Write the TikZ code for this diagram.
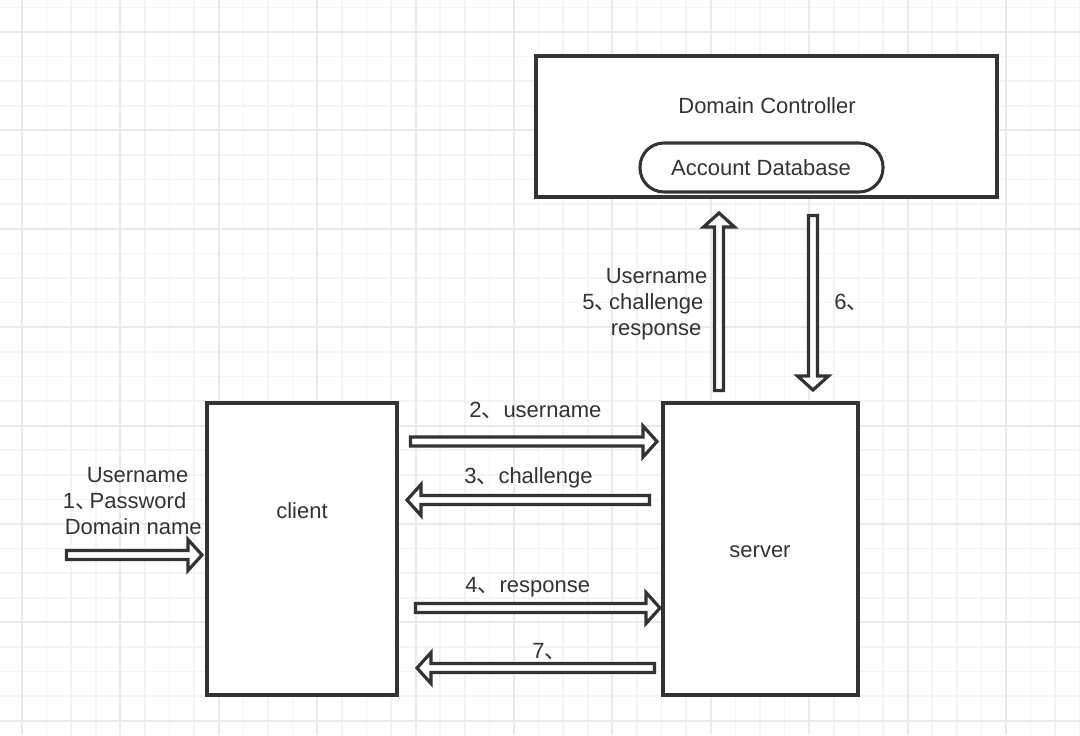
\documentclass[tikz,border=0pt]{standalone}
\usepackage{fontspec}
\setmainfont{Liberation Sans}
\newfontfamily\cjk{Noto Sans CJK SC}
\definecolor{ink}{HTML}{333333}
\definecolor{gridminor}{HTML}{F4F4F4}
\definecolor{gridmajor}{HTML}{EAEAEA}
\newcommand{\hblock}[4]{% tail x, tip x, y, signed head length
  \draw[blockarrow] (#1,{#3-4.5}) -- ({#2-(#4)},{#3-4.5}) -- ({#2-(#4)},{#3-15.5}) -- (#2,#3) -- ({#2-(#4)},{#3+15.5}) -- ({#2-(#4)},{#3+4.5}) -- (#1,{#3+4.5}) -- cycle;}
\newcommand{\vblock}[4]{% x, tail y, tip y, signed head length
  \draw[blockarrow] ({#1-4.5},#2) -- ({#1-4.5},{#3-(#4)}) -- ({#1-15.5},{#3-(#4)}) -- (#1,#3) -- ({#1+15.5},{#3-(#4)}) -- ({#1+4.5},{#3-(#4)}) -- ({#1+4.5},#2) -- cycle;}
\newcommand{\narrowcomma}{{\cjk 、}\kern-5.5pt}
\begin{document}
\begin{tikzpicture}[x=0.75pt,y=-0.75pt,
  box/.style={draw=ink, line width=2.3pt, fill=white, inner sep=0pt},
  txt/.style={inner sep=0pt, text=ink, font=\fontsize{16.5}{20}\selectfont},
  blockarrow/.style={draw=ink, line width=2.4pt, fill=white, line join=miter},
  minorline/.style={draw=gridminor, line width=1.1pt},
  majorline/.style={draw=gridmajor, line width=1.5pt}]
\useasboundingbox (0,0) rectangle (1080,735);
\fill[white] (0,0) rectangle (1080,735);
% grid
\foreach \i in {0,...,44} {\draw[minorline] ({-2.6+24.6*\i},0) -- ({-2.6+24.6*\i},735);}
\foreach \i in {0,...,29} {\draw[minorline] (0,{7.4+24.6*\i}) -- (1080,{7.4+24.6*\i});}
\foreach \i in {0,...,10} {\draw[majorline] ({22+98.4*\i},0) -- ({22+98.4*\i},735);}
\foreach \i in {0,...,7} {\draw[majorline] (0,{32+98.4*\i}) -- (1080,{32+98.4*\i});}
% boxes
\node[box, minimum width=345.75pt, minimum height=105.75pt] (dc) at (766.5,126.5) {};
\node[txt, anchor=base] (dclabel) at (767,113) {Domain Controller};
\node[box, rounded corners=18pt, minimum width=182.25pt, minimum height=36.75pt] (adb) at (761.5,167.5) {};
\node[txt, anchor=base] (adblabel) at (761,175) {Account Database};
\node[box, minimum width=142.5pt, minimum height=219pt] (client) at (302,549) {};
\node[txt, anchor=base] (clientlabel) at (302,518) {client};
\node[box, minimum width=146.25pt, minimum height=219pt] (server) at (760.5,549) {};
\node[txt, anchor=base] (serverlabel) at (760,557) {server};
% arrows
\hblock{66.5}{202}{555}{14}
\hblock{410.5}{657}{441.5}{14}
\hblock{649.5}{407}{500}{-14}
\hblock{415.5}{660}{608}{14}
\hblock{654.5}{417}{668}{-14}
\vblock{719}{390.5}{213}{-14}
\vblock{813}{215.5}{390}{14}
% labels
\node[txt, anchor=base west] (l1a) at (86.5,482) {Username};
\node[txt, anchor=base west] (l1b) at (62.5,508) {1\narrowcomma Password};
\node[txt, anchor=base west] (l1c) at (64.5,534) {Domain name};
\node[txt, anchor=base west] (l2) at (469,417) {2{\cjk 、}username};
\node[txt, anchor=base west] (l3) at (464,483) {3{\cjk 、}challenge};
\node[txt, anchor=base west] (l4) at (465,592) {4{\cjk 、}response};
\node[txt, anchor=base west] (l7) at (532,658) {7{\cjk 、}};
\node[txt, anchor=base west] (l5a) at (605.5,283) {Username};
\node[txt, anchor=base west] (l5b) at (582,309) {5\narrowcomma challenge};
\node[txt, anchor=base west] (l5c) at (610.5,335) {response};
\node[txt, anchor=base west] (l6) at (834,309) {6{\cjk 、}};
\end{tikzpicture}
\end{document}
